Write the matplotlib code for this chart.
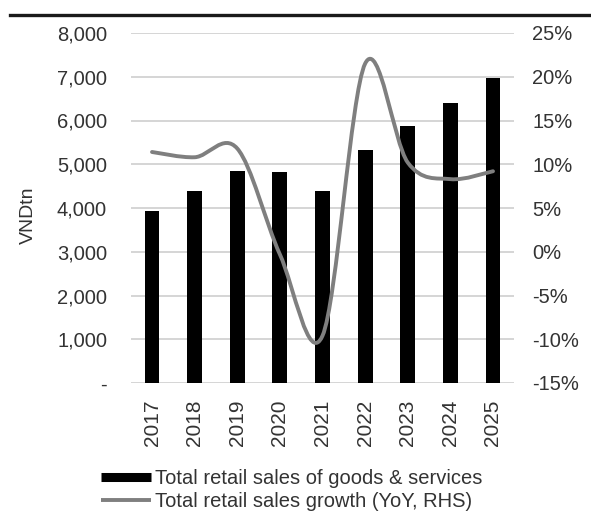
import matplotlib
matplotlib.use("Agg")
import matplotlib.pyplot as plt
from matplotlib.path import Path
from matplotlib.patches import PathPatch
from matplotlib.lines import Line2D
from matplotlib.ticker import FuncFormatter, FixedLocator
import numpy as np

years = ["2017", "2018", "2019", "2020", "2021", "2022", "2023", "2024", "2025"]
retail_sales = [3920, 4380, 4850, 4830, 4380, 5330, 5870, 6400, 6980]
growth_pct = [11.4, 10.8, 11.8, -0.3, -9.6, 21.5, 10.2, 8.3, 9.2]
left_ticks = [0, 1000, 2000, 3000, 4000, 5000, 6000, 7000, 8000]
right_ticks = [-15, -10, -5, 0, 5, 10, 15, 20, 25]
bar_label = "Total retail sales of goods & services"
line_label = "Total retail sales growth (YoY, RHS)"
y_label = "VNDtn"

plt.rcParams['font.family'] = ['Liberation Sans', 'DejaVu Sans']
txt = '#333333'
grid_c = '#d2d2d2'

W, H = 591, 513
fig = plt.figure(figsize=(W / 100, H / 100), dpi=100)
l, r, t, b = 130.7, 514.3, 33, 383
ax = fig.add_axes([l / W, 1 - b / H, (r - l) / W, (b - t) / H])
ax2 = ax.twinx()

x = np.arange(len(years))
ax.bar(x, retail_sales, width=0.35, color='black', zorder=3)
ax.set_xlim(-0.5, len(years) - 0.5)
ax.set_ylim(0, 8000)
ax.yaxis.set_major_locator(FixedLocator(left_ticks))
ax.yaxis.set_major_formatter(FuncFormatter(lambda v, p: "-" if v == 0 else f"{int(v):,}"))
ax.set_xticks(x)
ax.set_xticklabels(years, rotation=90, fontsize=15, color=txt)
ax.tick_params(axis='x', length=0, pad=12)
ax.tick_params(axis='y', length=0, pad=17, labelsize=14.5, labelcolor=txt)
ax.grid(axis='y', color=grid_c, linewidth=1.3, zorder=0)
ax.set_axisbelow(True)
for s in ax.spines.values():
    s.set_visible(False)
for s in ax2.spines.values():
    s.set_visible(False)
ax.set_ylabel(y_label, fontsize=14, color=txt)
ax.yaxis.set_label_coords(-0.245, 0.48)

ax2.set_ylim(-15, 25)
ax2.yaxis.set_major_locator(FixedLocator(right_ticks))
ax2.yaxis.set_major_formatter(FuncFormatter(lambda v, p: f"{int(v)}%"))
ax2.tick_params(axis='y', length=0, pad=13, labelsize=14.5, labelcolor=txt)

# smooth line (Excel-style Bezier through the data points)
px = x.astype(float)
py = np.array(growth_pct, dtype=float)
verts = [(px[0], py[0])]
codes = [Path.MOVETO]
n = len(px)
for i in range(n - 1):
    p0 = (px[i - 1], py[i - 1]) if i > 0 else (px[i], py[i])
    p1 = (px[i], py[i])
    p2 = (px[i + 1], py[i + 1])
    p3 = (px[i + 2], py[i + 2]) if i + 2 < n else (px[i + 1], py[i + 1])
    c1 = (p1[0] + (p2[0] - p0[0]) / 6, p1[1] + (p2[1] - p0[1]) / 6)
    c2 = (p2[0] - (p3[0] - p1[0]) / 6, p2[1] - (p3[1] - p1[1]) / 6)
    verts += [c1, c2, p2]
    codes += [Path.CURVE4] * 3
ax2.add_patch(PathPatch(Path(verts, codes), facecolor='none', edgecolor='#7f7f7f',
                        linewidth=2.8, zorder=4, capstyle='round', joinstyle='round'))

# top rule
fig.add_artist(Line2D([10 / W, 1.0], [1 - 15 / H, 1 - 15 / H], color='#1a1a1a', linewidth=2.4,
                      transform=fig.transFigure))

handles = [Line2D([0], [0], color='black', linewidth=6.5, solid_capstyle='butt'),
           Line2D([0], [0], color='#7f7f7f', linewidth=2.8, solid_capstyle='butt')]
leg = fig.legend(handles, [bar_label, line_label], loc='upper left',
                 bbox_to_anchor=(101 / W, 1 - 469 / H), frameon=False, fontsize=14.5,
                 handlelength=2.5, handletextpad=0.2, labelspacing=0.2, borderpad=0,
                 borderaxespad=0)
for tx in leg.get_texts():
    tx.set_color(txt)

fig.savefig("out.png", dpi=100)
